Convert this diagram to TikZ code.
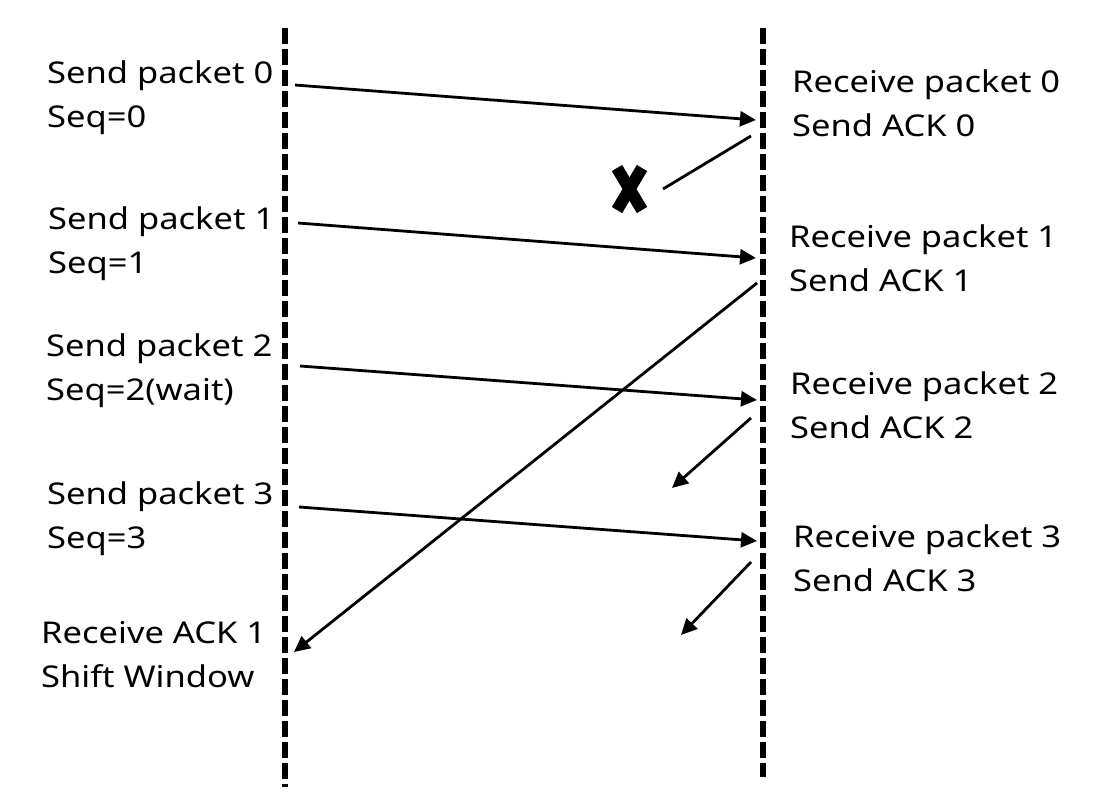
\documentclass[tikz,border=0pt]{standalone}
\usepackage{fontspec}
\setmainfont{Noto Sans}[FakeStretch=1.15]
\usetikzlibrary{arrows.meta}
\tikzset{
  lifeline/.style={line width=5.5pt, dash pattern=on 16pt off 5pt},
  msg/.style={line width=2.8pt, -{Triangle[length=16pt,width=15pt]}},
  plainmsg/.style={line width=2.8pt},
  lbl/.style={anchor=base west, align=left, inner sep=0pt, font=\fontsize{30}{44}\selectfont},
  cross/.style={line width=12pt}
}
\begin{document}
\begin{tikzpicture}[x=1pt,y=-1pt]
\useasboundingbox (0,0) rectangle (1093,796);
% lifelines
\coordinate (Ltop) at (285,28);
\coordinate (Lbot) at (285,787);
\coordinate (Rtop) at (763,28);
\coordinate (Rbot) at (763,777);
\draw[lifeline] (Ltop) -- (Lbot);
\draw[lifeline] (Rtop) -- (Rbot);
% labels (anchor = baseline of second line)
\node[lbl] (l0) at (47,127) {Send packet 0\\Seq=0};
\node[lbl] (l1) at (48,273) {Send packet 1\\Seq=1};
\node[lbl] (l2) at (46,400) {Send packet 2\\Seq=2(wait)};
\node[lbl] (l3) at (47,548) {Send packet 3\\Seq=3};
\node[lbl] (l4) at (41,687) {Receive ACK 1\\Shift Window};
\node[lbl] (r0) at (792,136) {Receive packet 0\\Send ACK 0};
\node[lbl] (r1) at (789,291) {Receive packet 1\\Send ACK 1};
\node[lbl] (r2) at (790,438) {Receive packet 2\\Send ACK 2};
\node[lbl] (r3) at (793,591) {Receive packet 3\\Send ACK 3};
% endpoints
\coordinate (s0) at (295,85);
\coordinate (d0) at (756,120);
\coordinate (s1) at (298,223);
\coordinate (d1) at (756,258);
\coordinate (s2) at (300,366);
\coordinate (d2) at (757,400);
\coordinate (s3) at (299,507);
\coordinate (d3) at (757,541);
\coordinate (a0s) at (751,136);
\coordinate (a0e) at (663,189);
\coordinate (a1s) at (757,283);
\coordinate (a1e) at (294,652);
\coordinate (a2s) at (751,418);
\coordinate (a2e) at (672,488);
\coordinate (a3s) at (751,562);
\coordinate (a3e) at (681,635);
% packets
\draw[msg] (s0) -- (d0);
\draw[msg] (s1) -- (d1);
\draw[msg] (s2) -- (d2);
\draw[msg] (s3) -- (d3);
% acks
\draw[plainmsg] (a0s) -- (a0e);
\draw[msg] (a1s) -- (a1e);
\draw[msg] (a2s) -- (a2e);
\draw[msg] (a3s) -- (a3e);
% lost mark
\coordinate (x1a) at (617,168);
\coordinate (x1b) at (642,210);
\coordinate (x2a) at (642,168);
\coordinate (x2b) at (617,210);
\draw[cross] (x1a) -- (x1b);
\draw[cross] (x2a) -- (x2b);
\end{tikzpicture}
\end{document}
